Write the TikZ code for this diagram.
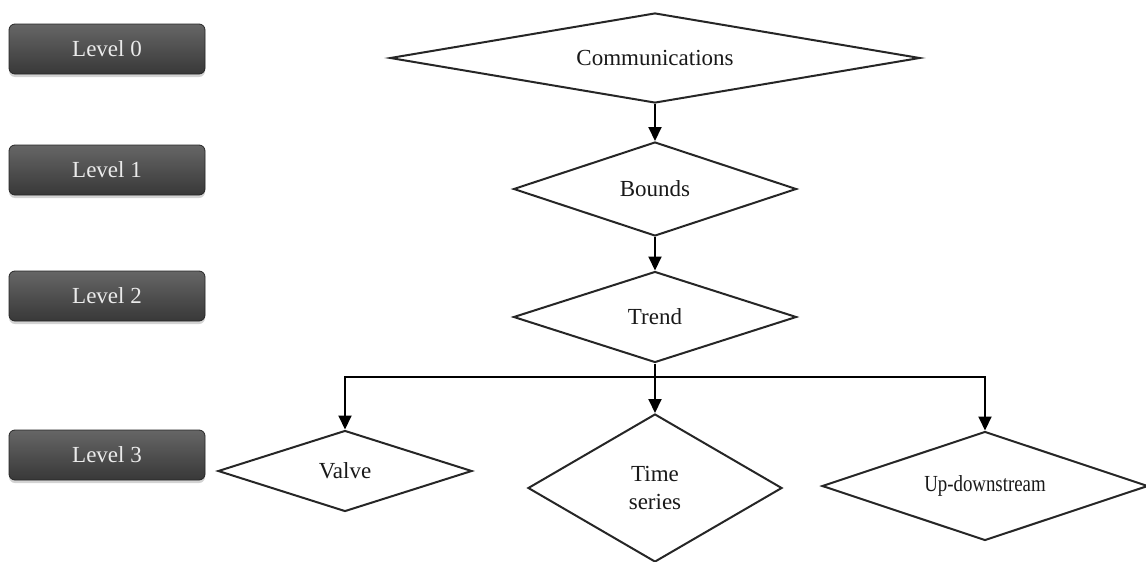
\documentclass[tikz,border=0pt]{standalone}
\usepackage{fontspec}
\setmainfont{Liberation Serif}
\usetikzlibrary{shapes.geometric, arrows.meta, shadows}
\tikzset{
  levelbox/.style={
    rectangle, rounded corners=6pt,
    draw=black!85, thick,
    top color=black!60, bottom color=black!78,
    drop shadow={shadow xshift=0pt, shadow yshift=-3pt, opacity=.35},
    text=white!92!black,
    minimum width=196pt, minimum height=50pt
  },
  decision/.style={
    diamond, draw=black!85, line width=2pt, fill=white,
    inner sep=0pt, align=center, text=black!90
  }
}

\begin{document}
\begin{tikzpicture}[x=1pt, y=-1pt, >={Triangle[length=14pt, width=13pt]},
    line width=2pt, font=\fontsize{23}{28}\selectfont]
  \useasboundingbox (0,0) rectangle (1146,562);

  % levels
  \node[levelbox] (lvl0) at (107,49) {Level 0};
  \node[levelbox] (lvl1) at (107,170) {Level 1};
  \node[levelbox] (lvl2) at (107,296) {Level 2};
  \node[levelbox] (lvl3) at (107,455) {Level 3};

  % tree
  \node[decision, shape aspect=5.9, minimum width=530pt, minimum height=90pt] (comm) at (655,58) {Communications};
  \node[decision, shape aspect=3, minimum width=283pt, minimum height=94pt] (bounds) at (655,189) {Bounds};
  \node[decision, shape aspect=3.1, minimum width=283pt, minimum height=91pt] (trend) at (655,317) {Trend};
  \node[decision, shape aspect=3.1, minimum width=254pt, minimum height=81pt] (valve) at (345,471) {Valve};
  \node[decision, shape aspect=1.7, minimum width=254pt, minimum height=148pt] (series) at (655,488) {Time\\series};
  \node[decision, shape aspect=3, minimum width=326pt, minimum height=109pt] (updown) at (985,486) {\scalebox{.82}[1]{Up-downstream}};
  \coordinate (split) at (655,377);

  \draw[->] (comm) -- (bounds);
  \draw[->] (bounds) -- (trend);
  \draw (trend) -- (split);
  \draw[->] (split) -- (series);
  \draw[->] (split) -| (valve);
  \draw[->] (split) -| (updown);
\end{tikzpicture}
\end{document}
